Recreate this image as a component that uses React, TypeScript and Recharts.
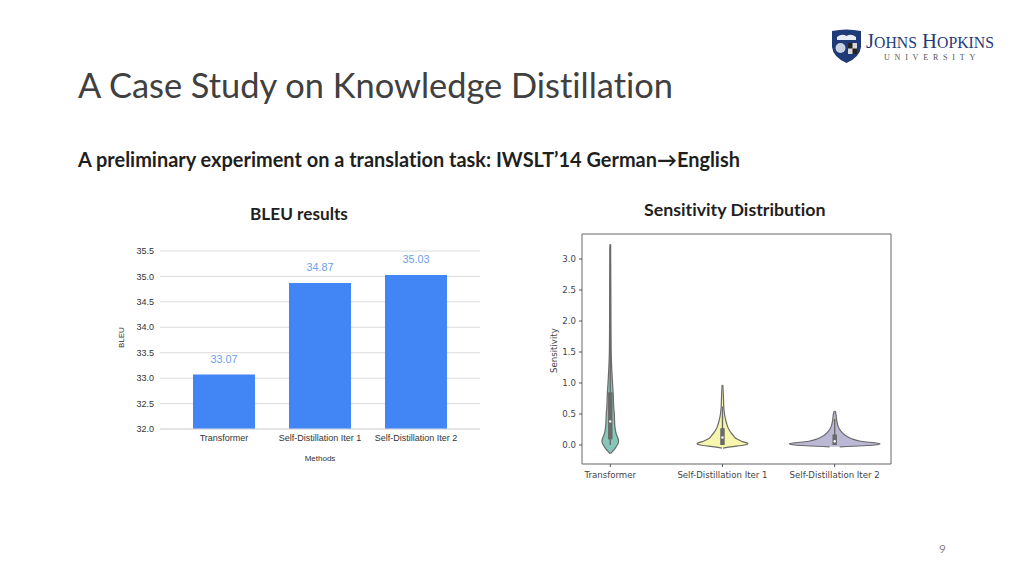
import React from 'react';
import {
  Area,
  Bar,
  BarChart,
  CartesianGrid,
  ComposedChart,
  LabelList,
  ReferenceArea,
  ReferenceDot,
  ReferenceLine,
  XAxis,
  YAxis,
} from 'recharts';

const methods = ['Transformer', 'Self-Distillation Iter 1', 'Self-Distillation Iter 2'];
const bleuScores = [33.07, 34.87, 35.03];
const bleuTicks = [32, 32.5, 33, 33.5, 34, 34.5, 35, 35.5];

const sensitivityTicks = [0, 0.5, 1, 1.5, 2, 2.5, 3];
const sensitivityLevels = [-0.14, -0.1, -0.05, -0.03, 0, 0.02, 0.06, 0.1, 0.15, 0.2, 0.25, 0.3, 0.4, 0.5, 0.55, 0.6, 0.8, 0.97, 1.5, 2, 2.5, 3.24];
// violin half widths at each level, in category units
const transformerWidths = [0.003, 0.022, 0.045, 0.052, 0.062, 0.068, 0.074, 0.07, 0.059, 0.05, 0.045, 0.041, 0.038, 0.036, 0.034, 0.031, 0.027, 0.021, 0.008, 0.006, 0.005, 0.003];
const iter1Widths = [null, null, 0.005, 0.07, 0.196, 0.227, 0.17, 0.125, 0.098, 0.076, 0.058, 0.045, 0.029, 0.018, 0.015, 0.012, 0.008, 0.003, null, null, null, null];
const iter2Widths = [null, null, null, 0.045, 0.357, 0.405, 0.232, 0.152, 0.098, 0.067, 0.045, 0.031, 0.018, 0.011, 0.004, null, null, null, null, null, null, null];
const medians = [0.38, 0.12, 0.06];
const boxLow = [0.09, 0.0, 0.0];
const boxHigh = [0.85, 0.27, 0.17];
const whiskerLow = [0.0, 0.0, 0.0];
const whiskerHigh = [3.2, 0.62, 0.42];

const VIOLIN_COLORS = ['#85c8ba', '#f6f6ac', '#bbb8d6'];
const VIOLIN_LINE = '#6a6a6a';
const BOX_HALF = 0.02;

const FONT = 'Lato, "Open Sans", sans-serif';
const SANS = '"Liberation Sans", Arial, sans-serif';
const MPL = '"DejaVu Sans", sans-serif';

const barData = methods.map((name, i) => ({ name, score: bleuScores[i] }));

// one table per violin, only the levels that violin reaches
const violinRows = (center: number, widths: (number | null)[]) =>
  sensitivityLevels.flatMap((y, i) => {
    const w = widths[i];
    return w == null ? [] : [{ y, band: [center - w, center + w] }];
  });
const violins = [transformerWidths, iter1Widths, iter2Widths].map((widths, i) => violinRows(i, widths));

function BleuChart() {
  return (
    <BarChart
      width={380}
      height={230}
      data={barData}
      margin={{ top: 11, right: 10, bottom: 0, left: 0 }}
      barCategoryGap={0}
      style={{ fontVariantLigatures: 'none' }}
    >
      <CartesianGrid vertical={false} stroke="#dcdcdc" />
      <XAxis
        dataKey="name"
        height={41}
        padding={{ left: 16, right: 16 }}
        axisLine={{ stroke: '#dcdcdc' }}
        tickLine={false}
        tickSize={4}
        interval={0}
        tick={{ fontSize: 9, fill: '#333', fontFamily: SANS }}
        label={{ value: 'Methods', position: 'insideBottom', offset: 9, fontSize: 8, fill: '#333', fontFamily: SANS }}
      />
      <YAxis
        width={50}
        domain={[32, 35.5]}
        ticks={bleuTicks}
        interval={0}
        tickFormatter={(v: number) => v.toFixed(1)}
        axisLine={false}
        tickLine={false}
        tickSize={4}
        tick={{ fontSize: 9, fill: '#333', fontFamily: SANS }}
        label={{ value: 'BLEU', angle: -90, position: 'insideLeft', offset: 11, dy: 8, fontSize: 8, fill: '#333', fontFamily: SANS }}
      />
      <Bar dataKey="score" fill="#4285f4" barSize={62} isAnimationActive={false}>
        <LabelList
          dataKey="score"
          position="top"
          offset={12}
          formatter={(v: number) => v.toFixed(2)}
          style={{ fontSize: 10.8, fill: '#6d9eeb', fontFamily: SANS }}
        />
      </Bar>
    </BarChart>
  );
}

function SensitivityChart() {
  return (
    <ComposedChart
      width={360}
      height={260}
      layout="vertical"
      margin={{ top: 9, right: 9, bottom: 0, left: 10 }}
      style={{ fontVariantLigatures: 'none' }}
    >
      <XAxis
        type="number"
        height={21}
        domain={[-0.252, 2.502]}
        ticks={[0, 1, 2]}
        allowDataOverflow
        tickFormatter={(v: number) => methods[v]}
        axisLine={false}
        tickLine={{ stroke: '#555' }}
        tickSize={3}
        tickMargin={5}
        tick={{ fontSize: 8.6, fill: '#444', fontFamily: MPL }}
      />
      <YAxis
        type="number"
        dataKey="y"
        reversed
        width={32}
        domain={[-0.307, 3.404]}
        ticks={sensitivityTicks}
        interval={0}
        allowDataOverflow
        tickFormatter={(v: number) => v.toFixed(1)}
        axisLine={false}
        tickLine={{ stroke: '#555' }}
        tickSize={3}
        tickMargin={3}
        tick={{ fontSize: 8.6, fill: '#444', fontFamily: MPL }}
        label={{ value: 'Sensitivity', angle: -90, position: 'insideLeft', offset: 4, dy: 24, fontSize: 8.6, fill: '#444', fontFamily: MPL }}
      />
      <ReferenceArea x1={-0.252} x2={2.502} y1={-0.307} y2={3.404} fill="none" stroke="#666" ifOverflow="visible" />
      {violins.map((rows, i) => (
        <Area
          key={methods[i]}
          data={rows}
          type="monotoneY"
          dataKey="band"
          fill={VIOLIN_COLORS[i]}
          fillOpacity={1}
          stroke={VIOLIN_LINE}
          strokeWidth={1.2}
          dot={false}
          activeDot={false}
          isAnimationActive={false}
        />
      ))}
      {medians.map((median, i) => (
        <React.Fragment key={i}>
          <ReferenceLine
            segment={[{ x: i, y: whiskerLow[i] }, { x: i, y: whiskerHigh[i] }]}
            stroke={VIOLIN_LINE}
            strokeWidth={1.4}
          />
          <ReferenceArea
            x1={i - BOX_HALF}
            x2={i + BOX_HALF}
            y1={boxLow[i]}
            y2={boxHigh[i]}
            fill={VIOLIN_LINE}
            fillOpacity={1}
            stroke="none"
          />
          <ReferenceDot x={i} y={median} r={1.2} fill="#ffffff" stroke="none" />
        </React.Fragment>
      ))}
    </ComposedChart>
  );
}

function Logo() {
  return (
    <svg width={170} height={40} style={{ position: 'absolute', left: 830, top: 27 }}>
      <path d="M2 4 Q16 1 31 4 L31 20 Q30 30 16.5 36 Q3 30 2 20 Z" fill="#1f3a78" />
      <path d="M7 10 Q12 6 16.5 9 Q21 6 26 10 L26 13 L7 13 Z" fill="#e8edf5" />
      <circle cx={10.5} cy={21} r={5} fill="#c8d0e0" />
      <rect x={18} y={16} width={9} height={11} fill="#d8d8d8" />
      <rect x={18} y={16} width={4.5} height={5.5} fill="#222" />
      <rect x={22.5} y={21.5} width={4.5} height={5.5} fill="#222" />
      <text x={36} y={21} fontFamily='"Liberation Serif", serif' fontSize={21} fill="#1f3a78" textLength={128} lengthAdjust="spacingAndGlyphs">
        J<tspan fontSize={16}>OHNS</tspan> H<tspan fontSize={16}>OPKINS</tspan>
      </text>
      <text x={54} y={33} fontFamily='"Liberation Serif", serif' fontSize={8} fill="#555" letterSpacing={4.8}>UNIVERSITY</text>
    </svg>
  );
}

export default function App() {
  const text = (left: number, top: number, style: React.CSSProperties, content: string) => (
    <div style={{ position: 'absolute', left, top, whiteSpace: 'nowrap', fontFamily: FONT, fontVariantLigatures: 'none', ...style }}>{content}</div>
  );
  return (
    <div style={{ position: 'fixed', left: 0, top: 0, width: 1024, height: 576, background: '#fff', overflow: 'hidden' }}>
      <Logo />
      {text(78, 63, { fontSize: 34.4, fontWeight: 400, color: '#404040', lineHeight: '44px' }, 'A Case Study on Knowledge Distillation')}
      {text(78, 147, { fontSize: 19.95, fontWeight: 700, color: '#1f1f1f', lineHeight: '24px' }, 'A preliminary experiment on a translation task: IWSLT’14 German→English')}
      {text(250, 204, { fontSize: 17.2, fontWeight: 700, color: '#1f1f1f', lineHeight: '20px' }, 'BLEU results')}
      {text(644, 199, { fontSize: 17.8, fontWeight: 700, color: '#1f1f1f', lineHeight: '20px' }, 'Sensitivity Distribution')}
      {text(939, 542, { fontSize: 12, color: '#8a8a8a', lineHeight: '14px' }, '9')}
      <div style={{ position: 'absolute', left: 110, top: 240 }}>
        <BleuChart />
      </div>
      <div style={{ position: 'absolute', left: 540, top: 225 }}>
        <SensitivityChart />
      </div>
    </div>
  );
}
